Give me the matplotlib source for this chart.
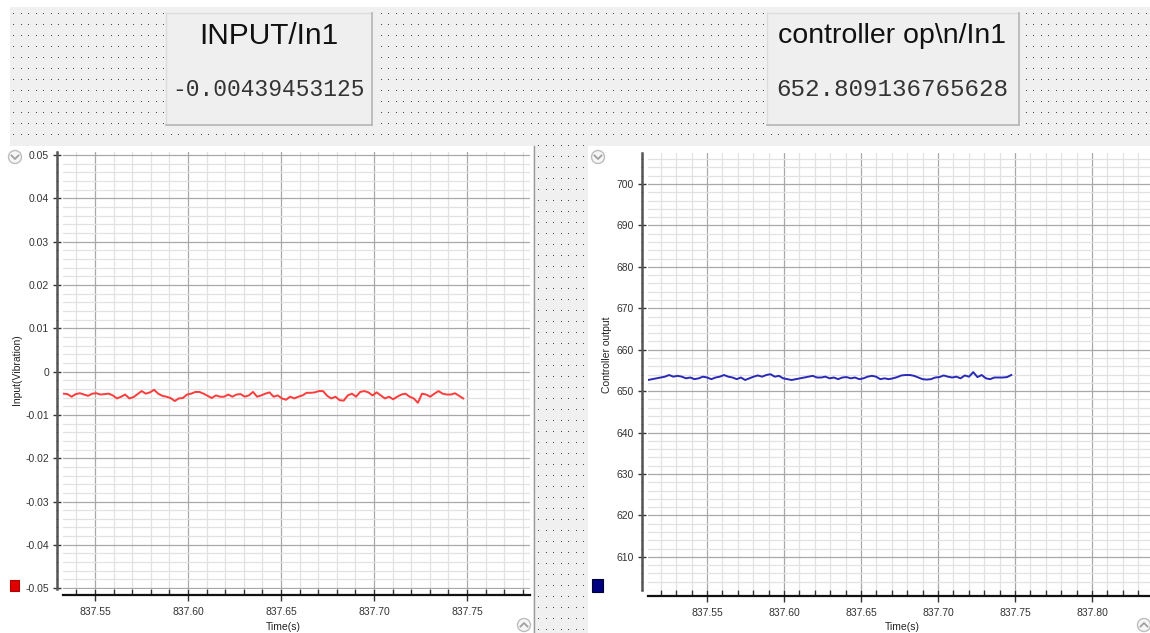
import matplotlib
matplotlib.use("Agg")
import matplotlib.pyplot as plt
import numpy as np
from matplotlib.patches import Rectangle, Circle
from matplotlib.ticker import MultipleLocator, FixedLocator, FixedFormatter

plt.rcParams['font.family'] = ['Liberation Sans', 'DejaVu Sans']

# ---------------- data ----------------
input_title = "INPUT/In1"
input_value_text = "-0.00439453125"
ctrl_title = "controller op\\n/In1"
ctrl_value_text = "652.809136765628"

input_ylabel = "Input(Vibration)"
ctrl_ylabel = "Controller output"
xlabel = "Time(s)"

# sample time span of each trace (s)
input_t_start, input_t_end = 837.5330, 837.7480
ctrl_t_start, ctrl_t_end = 837.5117, 837.7476

input_values = [
    -0.0051, -0.0052, -0.0058, -0.0052, -0.0050, -0.0053, -0.0056, -0.0051, -0.0050, -0.0053,
    -0.0052, -0.0051, -0.0055, -0.0062, -0.0058, -0.0053, -0.0062, -0.0059, -0.0052, -0.0045,
    -0.0051, -0.0048, -0.0042, -0.0051, -0.0056, -0.0058, -0.0061, -0.0068, -0.0062, -0.0061,
    -0.0053, -0.0051, -0.0047, -0.0047, -0.0051, -0.0056, -0.0061, -0.0055, -0.0058, -0.0058,
    -0.0053, -0.0058, -0.0053, -0.0052, -0.0058, -0.0055, -0.0047, -0.0058, -0.0055, -0.0051,
    -0.0048, -0.0058, -0.0055, -0.0062, -0.0065, -0.0058, -0.0062, -0.0058, -0.0055, -0.0049,
    -0.0049, -0.0048, -0.0045, -0.0045, -0.0056, -0.0062, -0.0058, -0.0066, -0.0067, -0.0055,
    -0.0051, -0.0058, -0.0047, -0.0045, -0.0048, -0.0055, -0.0048, -0.0055, -0.0062, -0.0058,
    -0.0064, -0.0058, -0.0053, -0.0051, -0.0058, -0.0062, -0.0072, -0.0051, -0.0053, -0.0058,
    -0.0051, -0.0045, -0.0051, -0.0053, -0.0053, -0.0050, -0.0056, -0.0062,
]

ctrl_values = [
    652.7, 652.9, 653.1, 653.3, 653.5, 653.9, 653.5, 653.7, 653.5, 653.1,
    653.3, 652.9, 653.1, 653.5, 653.3, 652.9, 653.3, 653.5, 653.9, 653.5,
    653.3, 652.9, 653.3, 652.7, 653.1, 653.5, 653.8, 653.5, 653.9, 654.1,
    653.5, 653.7, 653.1, 652.9, 652.7, 652.9, 653.1, 653.3, 653.5, 653.7,
    653.3, 653.3, 653.5, 653.1, 653.3, 652.9, 653.3, 653.4, 653.1, 653.3,
    652.9, 653.1, 653.5, 653.7, 653.5, 652.9, 653.1, 652.9, 653.1, 653.4,
    653.8, 653.9, 653.9, 653.7, 653.3, 652.9, 652.8, 652.9, 653.3, 653.4,
    653.8, 653.5, 653.3, 653.5, 653.1, 653.8, 653.5, 654.6, 653.4, 653.9,
    653.1, 652.9, 653.3, 653.3, 653.3, 653.4, 653.9,
]

input_xticks = [837.55, 837.60, 837.65, 837.70, 837.75]
input_xticklabels = ["837.55", "837.60", "837.65", "837.70", "837.75"]
input_yticks = [0.05, 0.04, 0.03, 0.02, 0.01, 0.0, -0.01, -0.02, -0.03, -0.04, -0.05]
input_yticklabels = ["0.05", "0.04", "0.03", "0.02", "0.01", "0",
                     "-0.01", "-0.02", "-0.03", "-0.04", "-0.05"]
input_xlim = (837.5328, 837.7839)
input_ylim = (-0.0502, 0.0507)

ctrl_xticks = [837.55, 837.60, 837.65, 837.70, 837.75, 837.80]
ctrl_xticklabels = ["837.55", "837.60", "837.65", "837.70", "837.75", "837.80"]
ctrl_yticks = [610, 620, 630, 640, 650, 660, 670, 680, 690, 700]
ctrl_yticklabels = ["610", "620", "630", "640", "650", "660", "670", "680", "690", "700"]
ctrl_xlim = (837.5117, 837.8377)
ctrl_ylim = (602.0, 707.5)

# ---------------- figure ----------------
W, H = 1150, 633
fig = plt.figure(figsize=(W / 100, H / 100), dpi=100)
fig.patch.set_facecolor('white')

bg = fig.add_axes([0, 0, 1, 1], zorder=0)
bg.set_xlim(0, W)
bg.set_ylim(H, 0)
bg.axis('off')

# gray panel background
bg.add_patch(Rectangle((10, 7), W - 10, H - 7, fc='#f0f0f0', ec='none', zorder=0))

# dotted pattern (1-pixel dots)
dx = np.arange(13, W, 7.5)
dy = np.arange(14, H, 11)
gx, gy = np.meshgrid(dx, dy)
gx = gx.ravel(); gy = gy.ravel()
keep = np.ones_like(gx, dtype=bool)
keep &= ~((gx < 535) & (gy > 144))            # left white panel
keep &= ~((gx > 586) & (gy > 144))            # right white panel
keep &= ~((gx > 164) & (gx < 374) & (gy > 11) & (gy < 127))
keep &= ~((gx > 765) & (gx < 1021) & (gy > 11) & (gy < 127))
bg.plot(gx[keep], gy[keep], linestyle='none', marker=',', color='#4a4a4a', zorder=1)

# white chart panels
bg.add_patch(Rectangle((0, 146), 533, H - 146, fc='white', ec='none', zorder=2))
bg.plot([533.5, 533.5], [146, H], color='#9a9a9a', lw=1, zorder=3)
bg.add_patch(Rectangle((588, 146), W - 588, H - 146, fc='white', ec='none', zorder=2))

# indicator boxes
for (x0, x1) in [(166, 372), (767, 1019)]:
    bg.add_patch(Rectangle((x0, 13), x1 - x0, 112, fc='#efefef', ec='none', zorder=2))
    bg.plot([x0, x1], [13, 13], color='#dcdcdc', lw=1, zorder=3)
    bg.plot([x0, x0], [13, 125], color='#dcdcdc', lw=1, zorder=3)
    bg.plot([x1, x1], [13, 125], color='#b5b5b5', lw=1.2, zorder=3)
    bg.plot([x0, x1], [125, 125], color='#b5b5b5', lw=1.2, zorder=3)

bg.text(269, 36, input_title, ha='center', va='center', fontsize=21.5,
        color='#111111', zorder=4)
bg.text(268, 90, input_value_text, ha='center', va='center', fontsize=16.5,
        family=['Liberation Mono', 'DejaVu Sans Mono'], color='#333333', zorder=4)
bg.text(892, 36, ctrl_title, ha='center', va='center', fontsize=20.5,
        color='#111111', zorder=4)
bg.text(892, 90, ctrl_value_text, ha='center', va='center', fontsize=17.5,
        family=['Liberation Mono', 'DejaVu Sans Mono'], color='#333333', zorder=4)

# small round icons
def icon(cx, cy, down=True):
    bg.add_patch(Circle((cx, cy), 6.5, fc='#f6f6f6', ec='#bdbdbd', lw=1, zorder=4))
    if down:
        bg.plot([cx - 3.5, cx, cx + 3.5], [cy - 1.5, cy + 2, cy - 1.5], color='#a0a0a0', lw=1.3, zorder=5)
    else:
        bg.plot([cx - 3.5, cx, cx + 3.5], [cy + 1.5, cy - 2, cy + 1.5], color='#a0a0a0', lw=1.3, zorder=5)

icon(15, 157, True)
icon(598, 157, True)
icon(524, 625, False)
icon(1144, 625, False)

# legend-like colored squares
bg.add_patch(Rectangle((10, 580), 9, 11, fc='#e00000', ec='#b00000', lw=0.8, zorder=4))
bg.add_patch(Rectangle((592, 579), 11, 13, fc='#000080', ec='#000030', lw=0.8, zorder=4))

# axis titles
bg.text(17, 370, input_ylabel, rotation=90, ha='center', va='center', fontsize=7.5,
        color='#222222', zorder=4)
bg.text(607, 355, ctrl_ylabel, rotation=90, ha='center', va='center', fontsize=7.5,
        color='#222222', zorder=4)
bg.text(283, 627, xlabel, ha='center', va='center', fontsize=7.5, color='#222222', zorder=4)
bg.text(902, 627, xlabel, ha='center', va='center', fontsize=7.5, color='#222222', zorder=4)


def style_axes(ax, xticks, xticklabels, yticks, yticklabels, xlim, ylim, xminor, yminor):
    ax.set_facecolor('white')
    ax.set_xlim(*xlim)
    ax.set_ylim(*ylim)
    ax.xaxis.set_major_locator(FixedLocator(xticks))
    ax.xaxis.set_major_formatter(FixedFormatter(xticklabels))
    ax.yaxis.set_major_locator(FixedLocator(yticks))
    ax.yaxis.set_major_formatter(FixedFormatter(yticklabels))
    ax.xaxis.set_minor_locator(MultipleLocator(xminor))
    ax.yaxis.set_minor_locator(MultipleLocator(yminor))
    for s in ['top', 'right']:
        ax.spines[s].set_visible(False)
    ax.spines['left'].set_position(('outward', 4))
    ax.spines['bottom'].set_position(('outward', 4))
    ax.spines['left'].set_color('#555555')
    ax.spines['left'].set_linewidth(1.8)
    ax.spines['bottom'].set_color('#111111')
    ax.spines['bottom'].set_linewidth(1.6)
    ax.tick_params(axis='x', which='major', direction='inout', length=8, width=1,
                   color='#333333', labelcolor='#333333', labelsize=7.5, pad=5)
    ax.tick_params(axis='x', which='minor', direction='in', length=4, width=1, color='#333333')
    ax.tick_params(axis='y', which='major', direction='inout', length=6, width=1,
                   color='#333333', labelcolor='#333333', labelsize=7.5, pad=3)
    ax.tick_params(axis='y', which='minor', direction='inout', length=2, width=0.8, color='#555555')
    ax.grid(which='major', color='#a8a8a8', lw=0.9)
    ax.grid(which='minor', color='#e2e2e2', lw=0.9)
    ax.set_axisbelow(True)


# left chart
axL = fig.add_axes([63 / W, 1 - 589 / H, 467 / W, 437 / H], zorder=2)
style_axes(axL, input_xticks, input_xticklabels, input_yticks, input_yticklabels,
           input_xlim, input_ylim, 0.01, 0.002)
t_in = np.linspace(input_t_start, input_t_end, len(input_values))
axL.plot(t_in, input_values, color='#ff3b3b', lw=1.4, zorder=3)

# right chart
axR = fig.add_axes([648 / W, 1 - 590 / H, 502 / W, 437 / H], zorder=2)
style_axes(axR, ctrl_xticks, ctrl_xticklabels, ctrl_yticks, ctrl_yticklabels,
           ctrl_xlim, ctrl_ylim, 0.01, 2)
t_ct = np.linspace(ctrl_t_start, ctrl_t_end, len(ctrl_values))
axR.plot(t_ct, ctrl_values, color='#2a2ab8', lw=1.4, zorder=3)

fig.savefig('out.png', dpi=100)
